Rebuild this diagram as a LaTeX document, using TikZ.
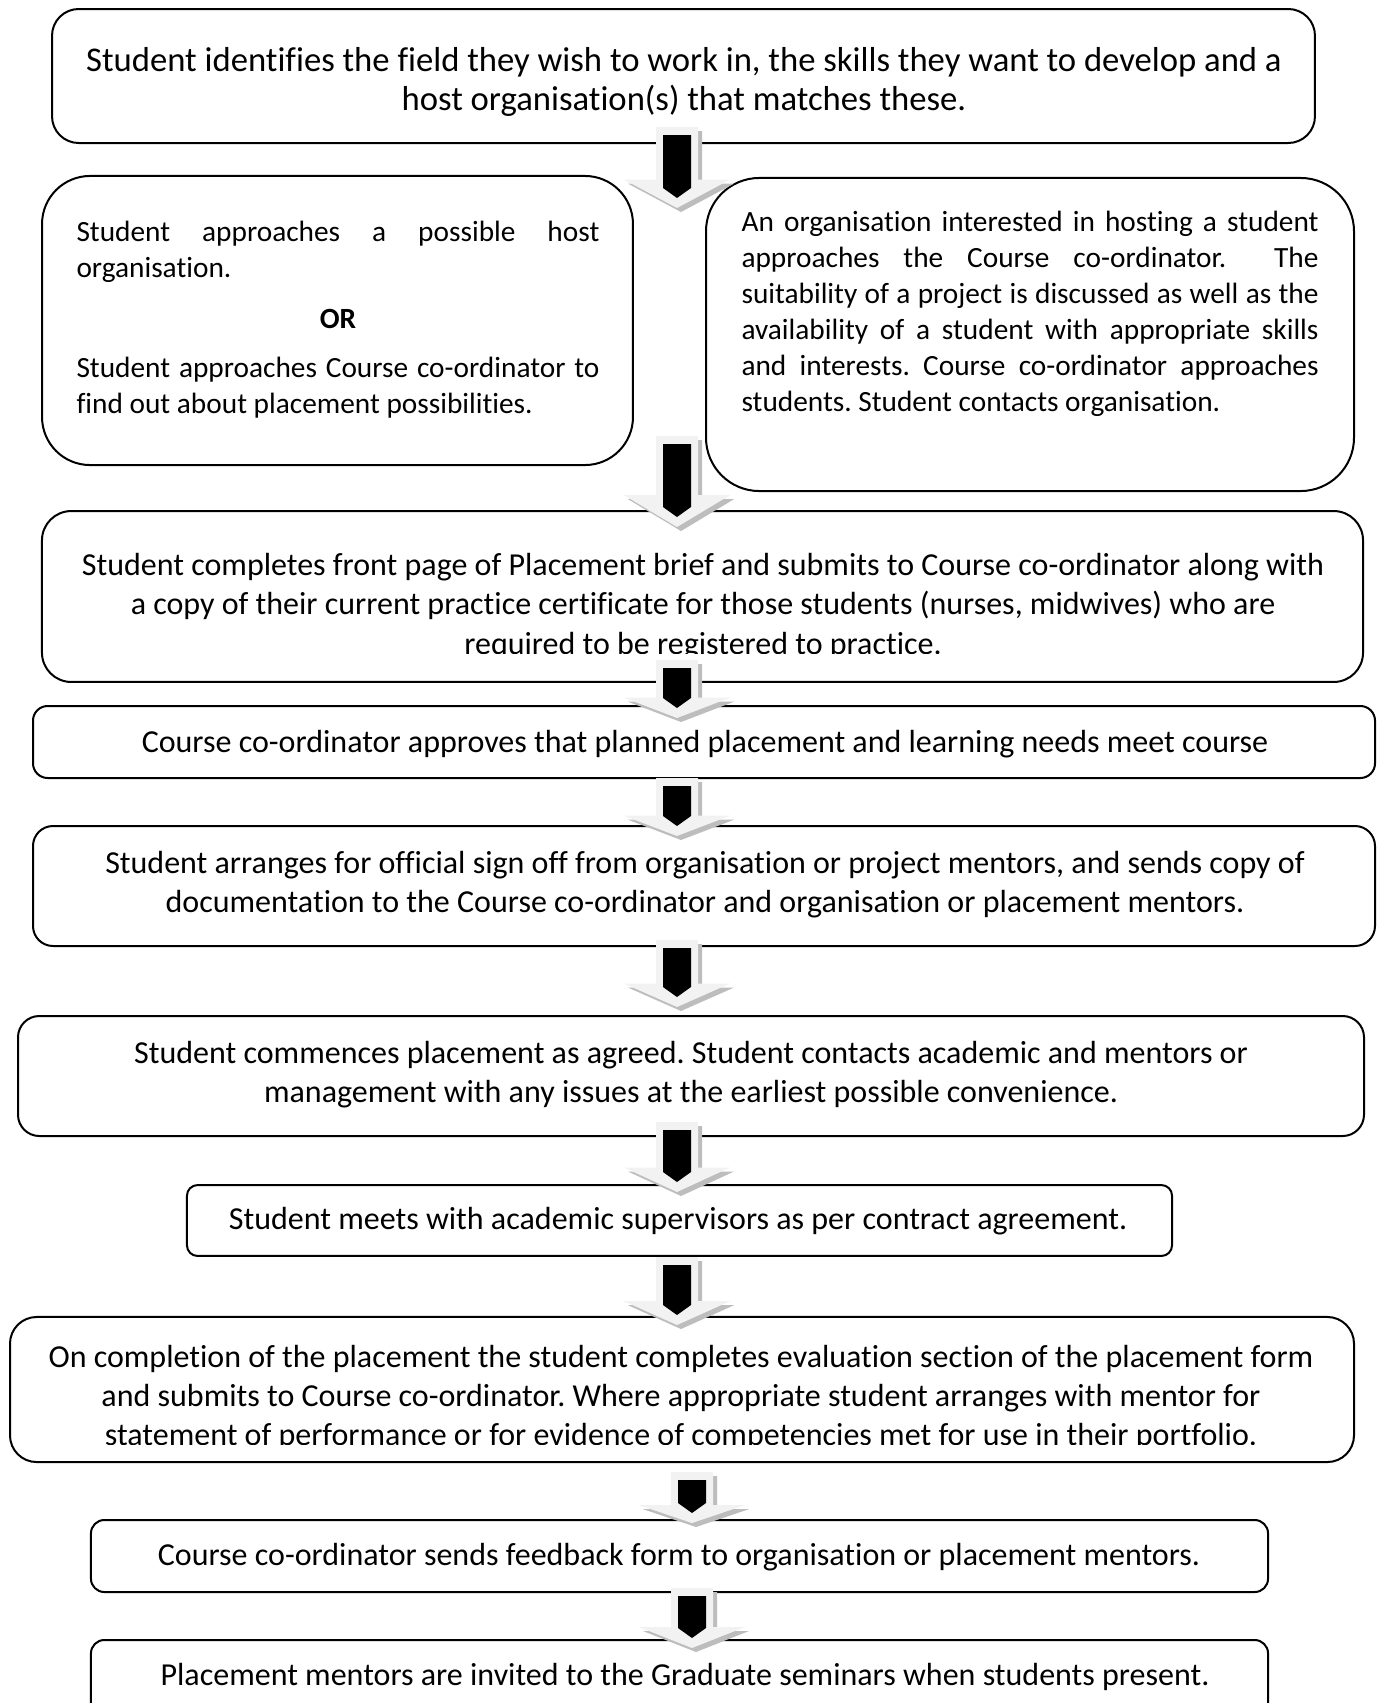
\documentclass[tikz,border=0pt]{standalone}
\usepackage{fontspec}
\setmainfont{Carlito}[Ligatures={NoCommon}]
\definecolor{arrowlight}{gray}{0.95}
\definecolor{arrowshade}{gray}{0.74}
\tikzset{
  rbox/.style={draw=black, line width=0.75pt, fill=white, inner sep=0pt, rounded corners=#1},
  txt/.style={inner sep=0pt, align=center, font=\fontsize{12}{14.625}\selectfont},
  jtxt/.style={inner sep=0pt, align=left, anchor=west, font=\fontsize{11}{13.5}\selectfont},
}
\newcommand\blockarrow[4]{% name, cx, top, tip
  \coordinate (#1-s) at (#2,#3);
  \coordinate (#1-e) at (#2,#4);
  \pgfmathsetmacro\hl{0.35*(#4-#3)}
  \begin{scope}[shift={(4,4)}]
    \fill[arrowshade] ({#2-21},#3) -- ({#2+21},#3) -- ({#2+21},{#4-\hl}) -- ({#2+53},{#4-\hl}) -- (#2,#4) -- ({#2-53},{#4-\hl}) -- ({#2-21},{#4-\hl}) -- cycle;
  \end{scope}
  \fill[arrowlight] ({#2-21},#3) -- ({#2+21},#3) -- ({#2+21},{#4-\hl}) -- ({#2+53},{#4-\hl}) -- (#2,#4) -- ({#2-53},{#4-\hl}) -- ({#2-21},{#4-\hl}) -- cycle;
  \fill[black] ({#2-14},{#3+8}) -- ({#2+14},{#3+8}) -- ({#2+14},{#4-20}) -- (#2,{#4-10}) -- ({#2-14},{#4-20}) -- cycle;
}
\begin{document}
\frenchspacing
\begin{tikzpicture}[x=0.375pt,y=-0.375pt]
\useasboundingbox (0,0) rectangle (1377,1703);
\clip (0,0) rectangle (1377,1703);
\fill[white] (0,0) rectangle (1377,1703);

% boxes
\node[rbox=10pt, minimum width=473.6pt, minimum height=50.25pt] (b1) at (683.5,76) {};
\node[rbox=18pt, minimum width=221.6pt, minimum height=108.4pt] (b2) at (337.5,320.5) {};
\node[rbox=20pt, minimum width=243pt, minimum height=117.4pt] (b3) at (1030,334.5) {};
\node[rbox=11pt, minimum width=495.4pt, minimum height=64.1pt] (b4) at (702.5,596.5) {};
\node[rbox=5.5pt, minimum width=503.25pt, minimum height=27pt] (b5) at (704,742) {};
\node[rbox=7.5pt, minimum width=503.25pt, minimum height=45pt] (b6) at (704,886) {};
\node[rbox=8pt, minimum width=504.75pt, minimum height=45pt] (b7) at (691,1076) {};
\node[rbox=4pt, minimum width=369.4pt, minimum height=26.6pt] (b8) at (679.5,1220.5) {};
\node[rbox=10pt, minimum width=504pt, minimum height=54.4pt] (b9) at (682,1389.5) {};
\node[rbox=5pt, minimum width=441.4pt, minimum height=27pt] (b10) at (679.5,1556) {};
\node[rbox=5pt, minimum width=441.4pt, minimum height=30pt] (b11) at (679.5,1680) {};

% texts
\node[txt, font=\fontsize{13}{14.625}\selectfont] (t1) at (684,82) {Student identifies the field they wish to work in, the skills they want to develop and a\\host organisation(s) that matches these.};
\node[jtxt] (tl1) at (76,252) {\makebox[196.1pt][s]{Student approaches a possible host}\\organisation.};
\node[txt, font=\fontsize{11}{13.5}\selectfont\bfseries] (tlor) at (338,318.5) {OR};
\node[jtxt] (tl2) at (76,387.5) {\makebox[196.1pt][s]{Student approaches Course co-ordinator to}\\find out about placement possibilities.};
\node[jtxt] (tr) at (741,314) {\makebox[216.4pt][s]{An organisation interested in hosting a student}\\
\makebox[216.4pt][s]{approaches the Course co-ordinator.\ \ The}\\
\makebox[216.4pt][s]{suitability of a project is discussed as well as the}\\
\makebox[216.4pt][s]{availability of a student with appropriate skills}\\
\makebox[216.4pt][s]{and interests. Course co-ordinator approaches}\\
students. Student contacts organisation.};
\begin{scope}
\clip (0,500) rectangle (1377,653);
\node[txt, font=\fontsize{12}{14.8}\selectfont] (t3) at (703,606.5) {Student completes front page of Placement brief and submits to Course co-ordinator along with\\a copy of their current practice certificate for those students (nurses, midwives) who are\\required to be registered to practice.};
\end{scope}
\node[txt] (t4) at (705,744) {Course co-ordinator approves that planned placement and learning needs meet course};
\node[txt] (t5) at (705,885) {Student arranges for official sign off from organisation or project mentors, and sends copy of\\documentation to the Course co-ordinator and organisation or placement mentors.};
\node[txt] (t6) at (691,1075) {Student commences placement as agreed. Student contacts academic and mentors or\\management with any issues at the earliest possible convenience.};
\node[txt] (t7) at (678,1221.5) {Student meets with academic supervisors as per contract agreement.};
\begin{scope}
\clip (0,1300) rectangle (1377,1444);
\node[txt] (t8) at (681,1397.5) {On completion of the placement the student completes evaluation section of the placement form\\and submits to Course co-ordinator. Where appropriate student arranges with mentor for\\statement of performance or for evidence of competencies met for use in their portfolio.};
\end{scope}
\node[txt] (t9) at (679,1557.5) {Course co-ordinator sends feedback form to organisation or placement mentors.};
\node[txt] (t10) at (685,1676.5) {Placement mentors are invited to the Graduate seminars when students present.};

% arrows
\blockarrow{a1}{677}{127}{208}
\blockarrow{a2}{677}{436}{527}
\blockarrow{a3}{677}{660}{718}
\blockarrow{a4}{677}{778}{836}
\blockarrow{a5}{677}{940}{1007}
\blockarrow{a6}{677}{1122}{1192}
\blockarrow{a7}{677}{1257}{1325}
\blockarrow{a8}{692}{1472}{1523}
\blockarrow{a9}{692}{1588}{1648}
\end{tikzpicture}
\end{document}
